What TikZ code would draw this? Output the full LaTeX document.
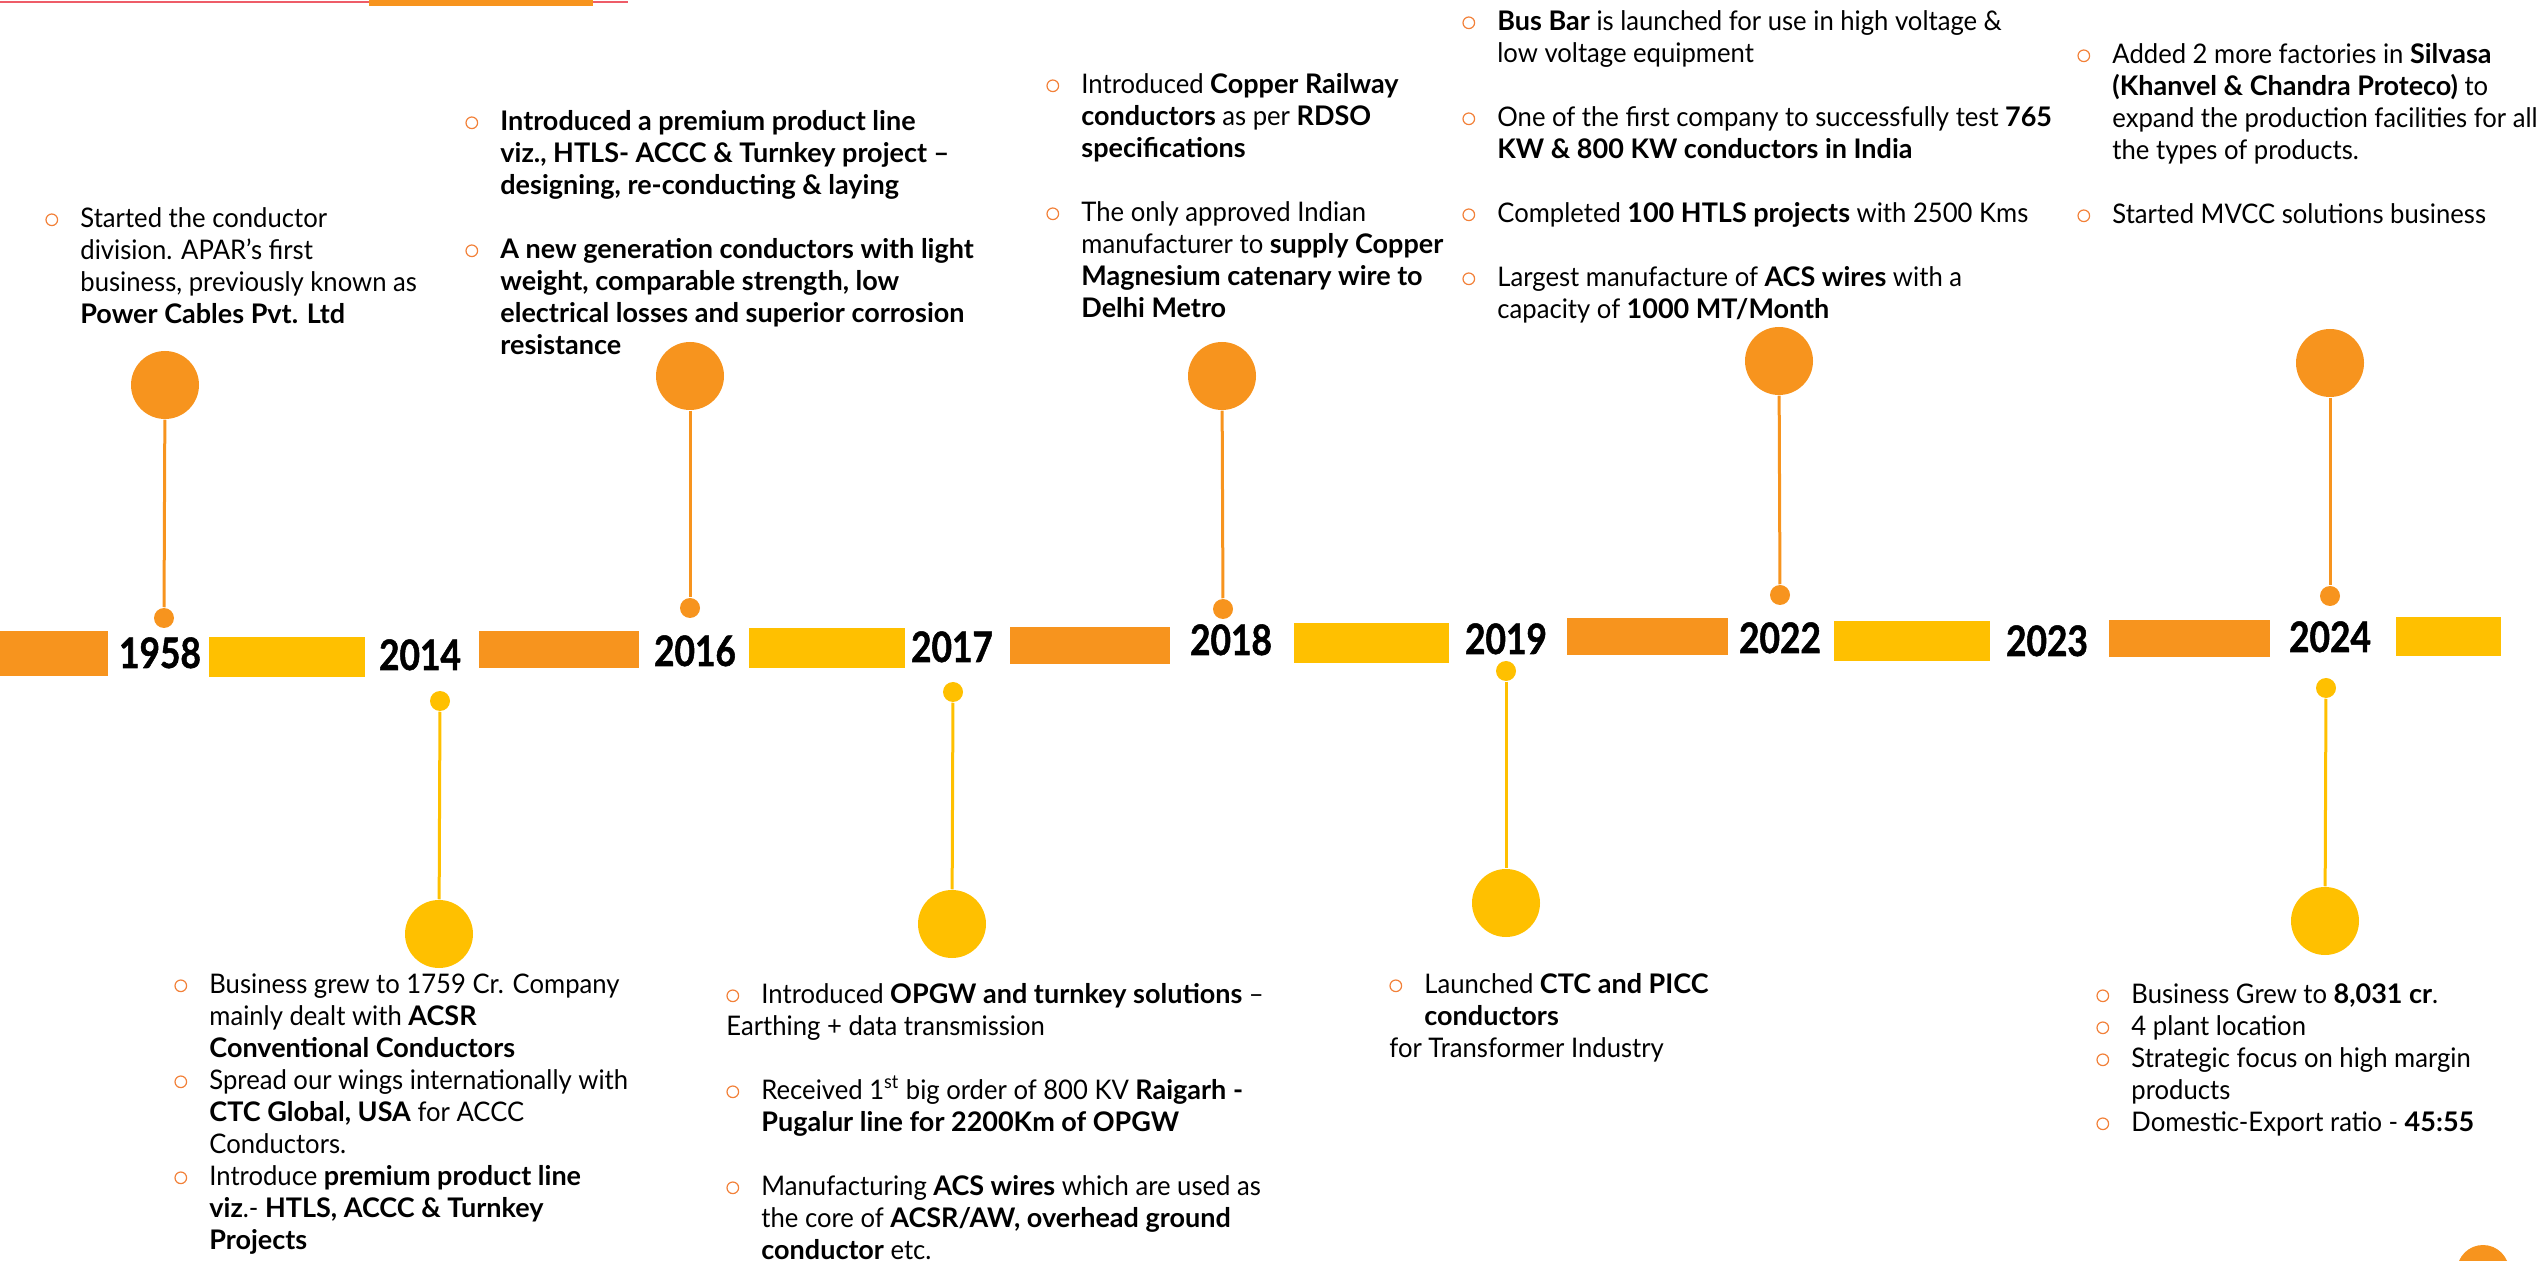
\documentclass[tikz,border=0pt]{standalone}
\usepackage{fontspec}
\setmainfont{Lato}[UprightFeatures={FakeStretch=0.95}]
\newfontfamily\yearfont[FakeStretch=0.84, BoldFeatures={FakeBold=1.2}]{Lato}

\definecolor{barorange}{RGB}{247,148,30}
\definecolor{baryellow}{RGB}{255,192,0}
\definecolor{bulletorange}{RGB}{242,128,56}
\definecolor{topline}{RGB}{238,92,104}

% hollow bullet and the indent of wrapped lines
\newcommand{\itembul}{\makebox[17.5pt][l]{\raisebox{0.6pt}{\tikz\draw[bulletorange,line width=0.6pt] (0,0) circle (2.9pt);}}}
\newcommand{\ind}{\hspace*{17.5pt}}

\tikzset{every picture/.style={line width=0.75pt}}
\tikzset{
  bigdot/.style={circle, inner sep=0pt, minimum size=34pt},
  smalldot/.style={circle, inner sep=0pt, minimum size=10pt},
  stem/.style={line width=1.5pt},
  yearlabel/.style={anchor=base, inner sep=0pt, font=\yearfont\bfseries\fontsize{21}{24}\selectfont},
  info/.style={anchor=north west, inner sep=0pt, align=left, font=\fontsize{13.5}{16}\selectfont}
}

\begin{document}
\begin{tikzpicture}[x=0.5pt,y=0.5pt,yscale=-1,xscale=1]
	\useasboundingbox (0,0) rectangle (2539,1261);

	%Straight Lines [top rule]
	\draw [topline, line width=1.2pt] (0,2) -- (628,2) ;
	%Shape: Rectangle [top tab]
	\fill [barorange] (369,0) -- (593,0) -- (593,6) -- (369,6) -- cycle ;

	%Shape: Rectangle [bars of the time line]
	\fill [barorange] (0,631) -- (108,631) -- (108,676) -- (0,676) -- cycle ;
	\fill [baryellow] (209,637) -- (365,637) -- (365,677) -- (209,677) -- cycle ;
	\fill [barorange] (479,631) -- (639,631) -- (639,668) -- (479,668) -- cycle ;
	\fill [baryellow] (749,628) -- (905,628) -- (905,668) -- (749,668) -- cycle ;
	\fill [barorange] (1010,627) -- (1170,627) -- (1170,664) -- (1010,664) -- cycle ;
	\fill [baryellow] (1294,623) -- (1449,623) -- (1449,663) -- (1294,663) -- cycle ;
	\fill [barorange] (1567,618) -- (1728,618) -- (1728,655) -- (1567,655) -- cycle ;
	\fill [baryellow] (1834,621) -- (1990,621) -- (1990,661) -- (1834,661) -- cycle ;
	\fill [barorange] (2109,620) -- (2270,620) -- (2270,657) -- (2109,657) -- cycle ;
	\fill [baryellow] (2396,617) -- (2501,617) -- (2501,656) -- (2396,656) -- cycle ;

	% Text Node [years]
	\draw (160,668) node[yearlabel] (y1958) {1958};
	\draw (420,670) node[yearlabel] (y2014) {2014};
	\draw (695,666) node[yearlabel] (y2016) {2016};
	\draw (952,662) node[yearlabel] (y2017) {2017};
	\draw (1231,655) node[yearlabel] (y2018) {2018};
	\draw (1506,654) node[yearlabel] (y2019) {2019};
	\draw (1780,653) node[yearlabel] (y2022) {2022};
	\draw (2047,656) node[yearlabel] (y2023) {2023};
	\draw (2330,652) node[yearlabel] (y2024) {2024};

	%Shape: Circle [markers above the line]
	\draw (165,385) node[bigdot, fill=barorange] (c1958) {};
	\draw (164,618) node[smalldot, fill=barorange] (d1958) {};
	\draw (690,376) node[bigdot, fill=barorange] (c2016) {};
	\draw (690,608) node[smalldot, fill=barorange] (d2016) {};
	\draw (1222,376) node[bigdot, fill=barorange] (c2018) {};
	\draw (1223,609) node[smalldot, fill=barorange] (d2018) {};
	\draw (1779,361) node[bigdot, fill=barorange] (c2022) {};
	\draw (1780,595) node[smalldot, fill=barorange] (d2022) {};
	\draw (2330,363) node[bigdot, fill=barorange] (c2024a) {};
	\draw (2330,596) node[smalldot, fill=barorange] (d2024a) {};

	%Shape: Circle [markers below the line]
	\draw (440,701) node[smalldot, fill=baryellow] (d2014) {};
	\draw (439,934) node[bigdot, fill=baryellow] (c2014) {};
	\draw (953,692) node[smalldot, fill=baryellow] (d2017) {};
	\draw (952,924) node[bigdot, fill=baryellow] (c2017) {};
	\draw (1506,671) node[smalldot, fill=baryellow] (d2019) {};
	\draw (1506,903) node[bigdot, fill=baryellow] (c2019) {};
	\draw (2326,688) node[smalldot, fill=baryellow] (d2024b) {};
	\draw (2325,921) node[bigdot, fill=baryellow] (c2024b) {};

	%Straight Lines [stems]
	\draw [stem, barorange] (c1958) -- (d1958) ;
	\draw [stem, barorange] (c2016) -- (d2016) ;
	\draw [stem, barorange] (c2018) -- (d2018) ;
	\draw [stem, barorange] (c2022) -- (d2022) ;
	\draw [stem, barorange] (c2024a) -- (d2024a) ;
	\draw [stem, baryellow] (d2014) -- (c2014) ;
	\draw [stem, baryellow] (d2017) -- (c2017) ;
	\draw [stem, baryellow] (d2019) -- (c2019) ;
	\draw [stem, baryellow] (d2024b) -- (c2024b) ;

	% Text Node
	\draw (45,204.6) node[info] (t1958) {\strut\itembul Started the conductor\\
		\ind division. APAR’s first\\
		\ind business, previously known as\\
		\ind\textbf{Power Cables Pvt. Ltd}};
	% Text Node
	\draw (465,107.6) node[info] (t2016) {\strut\itembul\textbf{Introduced a premium product line}\\
		\ind\textbf{viz., HTLS- ACCC \& Turnkey project –}\\
		\ind\textbf{designing, re-conducting \& laying}\\[16pt]
		\itembul\textbf{A new generation conductors with light}\\
		\ind\textbf{weight, comparable strength, low}\\
		\ind\textbf{electrical losses and superior corrosion}\\
		\ind\textbf{resistance}};
	% Text Node
	\draw (1046,70.6) node[info] (t2018) {\strut\itembul Introduced \textbf{Copper Railway}\\
		\ind\textbf{conductors} as per \textbf{RDSO}\\
		\ind\textbf{specifications}\\[16pt]
		\itembul The only approved Indian\\
		\ind manufacturer to \textbf{supply Copper}\\
		\ind\textbf{Magnesium catenary wire to}\\
		\ind\textbf{Delhi Metro}};
	% Text Node
	\draw (1462,7.6) node[info] (t2022) {\strut\itembul\textbf{Bus Bar} is launched for use in high voltage \&\\
		\ind low voltage equipment\\[16pt]
		\itembul One of the first company to successfully test \textbf{765}\\
		\ind\textbf{KW \& 800 KW conductors in India}\\[16pt]
		\itembul Completed \textbf{100 HTLS projects} with 2500 Kms\\[16pt]
		\itembul Largest manufacture of \textbf{ACS wires} with a\\
		\ind capacity of \textbf{1000 MT/Month}};
	% Text Node
	\draw (2077,40.6) node[info] (t2024a) {\strut\itembul Added 2 more factories in \textbf{Silvasa}\\
		\ind\textbf{(Khanvel \& Chandra Proteco)} to\\
		\ind expand the production facilities for all\\
		\ind the types of products.\\[16pt]
		\itembul Started MVCC solutions business};
	% Text Node
	\draw (174,970.6) node[info] (t2014) {\strut\itembul Business grew to 1759 Cr. Company\\
		\ind mainly dealt with \textbf{ACSR}\\
		\ind\textbf{Conventional Conductors}\\
		\itembul Spread our wings internationally with\\
		\ind\textbf{CTC Global, USA} for ACCC\\
		\ind Conductors.\\
		\itembul Introduce \textbf{premium product line}\\
		\ind\textbf{viz}.- \textbf{HTLS, ACCC \& Turnkey}\\
		\ind\textbf{Projects}};
	% Text Node
	\draw (726,980.6) node[info] (t2017) {\strut\itembul Introduced \textbf{OPGW and turnkey solutions} –\\
		Earthing + data transmission\\[16pt]
		\itembul Received 1\textsuperscript{st} big order of 800 KV \textbf{Raigarh -}\\
		\ind\textbf{Pugalur line for 2200Km of OPGW}\\[16pt]
		\itembul Manufacturing \textbf{ACS wires} which are used as\\
		\ind the core of \textbf{ACSR/AW, overhead ground}\\
		\ind\textbf{conductor} etc.};
	% Text Node
	\draw (1389,970.6) node[info] (t2019) {\strut\itembul Launched \textbf{CTC and PICC}\\
		\ind\textbf{conductors}\\
		for Transformer Industry};
	% Text Node
	\draw (2096,980.6) node[info] (t2024b) {\strut\itembul Business Grew to \textbf{8,031 cr}.\\
		\itembul 4 plant location\\
		\itembul Strategic focus on high margin\\
		\ind products\\
		\itembul Domestic-Export ratio - \textbf{45:55}};

	%Shape: Circle [page corner]
	\fill [barorange] (2483,1271) circle (26) ;

\end{tikzpicture}
\end{document}
